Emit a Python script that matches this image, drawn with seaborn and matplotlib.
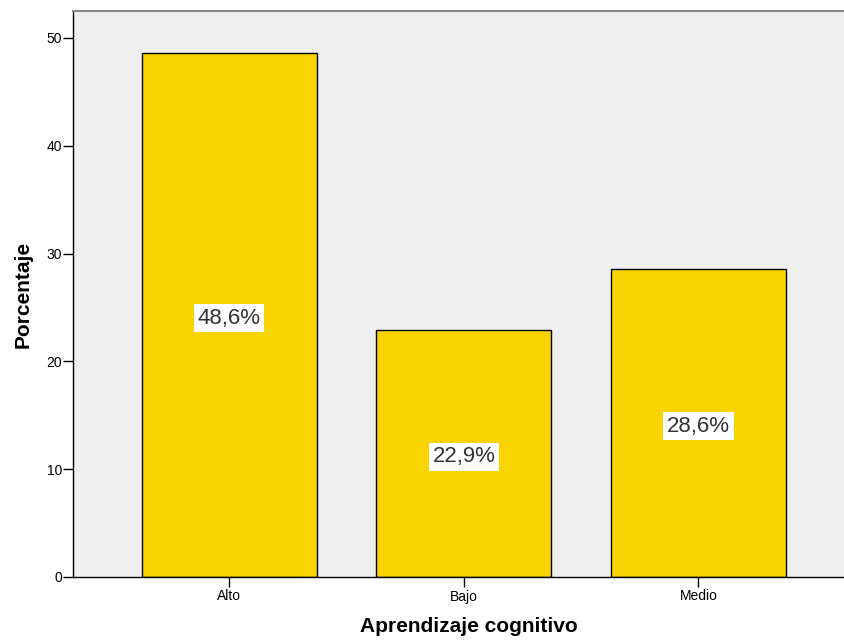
import matplotlib
matplotlib.use("Agg")
import matplotlib.pyplot as plt
import seaborn as sns
import pandas as pd

categorias = ["Alto", "Bajo", "Medio"]
porcentajes = [48.6, 22.9, 28.6]
etiquetas = ["48,6%", "22,9%", "28,6%"]

df = pd.DataFrame({"cat": categorias, "pct": porcentajes})

sns.set_style("white")
plt.rcParams["font.family"] = ["Liberation Sans", "DejaVu Sans"]

fig = plt.figure(figsize=(8.44, 6.4), dpi=100)
# the plot frame runs past the right edge of the picture, as in the original
ax = fig.add_axes([73 / 844, 1 - 577 / 640, (865 - 73) / 844, (577 - 11) / 640])
ax.set_facecolor("#efefef")

sns.barplot(data=df, x="cat", y="pct", color="#fad400", edgecolor="black",
            linewidth=1, width=0.746, saturation=1, ax=ax)

for i, (v, t) in enumerate(zip(porcentajes, etiquetas)):
    ax.text(i, v / 2 - 0.3, t, ha="center", va="center", fontsize=16, color="#333333",
            bbox=dict(facecolor="white", edgecolor="none", pad=2.5))

ax.set_xlim(-0.667, 2.71)
ax.set_ylim(0, 52.5)
ax.set_yticks([0, 10, 20, 30, 40, 50])
ax.tick_params(axis="both", direction="out", length=7, width=1, colors="black",
               labelsize=10, left=True, bottom=True, pad=1)
ax.tick_params(axis="x", pad=2)
ax.set_xlabel("Aprendizaje cognitivo", fontsize=15, fontweight="bold", labelpad=10,
              color="black")
ax.set_ylabel("Porcentaje", fontsize=15, fontweight="bold", labelpad=10,
              color="black")

for s in ["left", "bottom"]:
    ax.spines[s].set_color("black")
    ax.spines[s].set_linewidth(1)
ax.spines["top"].set_color("#888888")
ax.spines["top"].set_linewidth(1.5)
ax.spines["right"].set_visible(False)

fig.savefig("out.png", dpi=100)
